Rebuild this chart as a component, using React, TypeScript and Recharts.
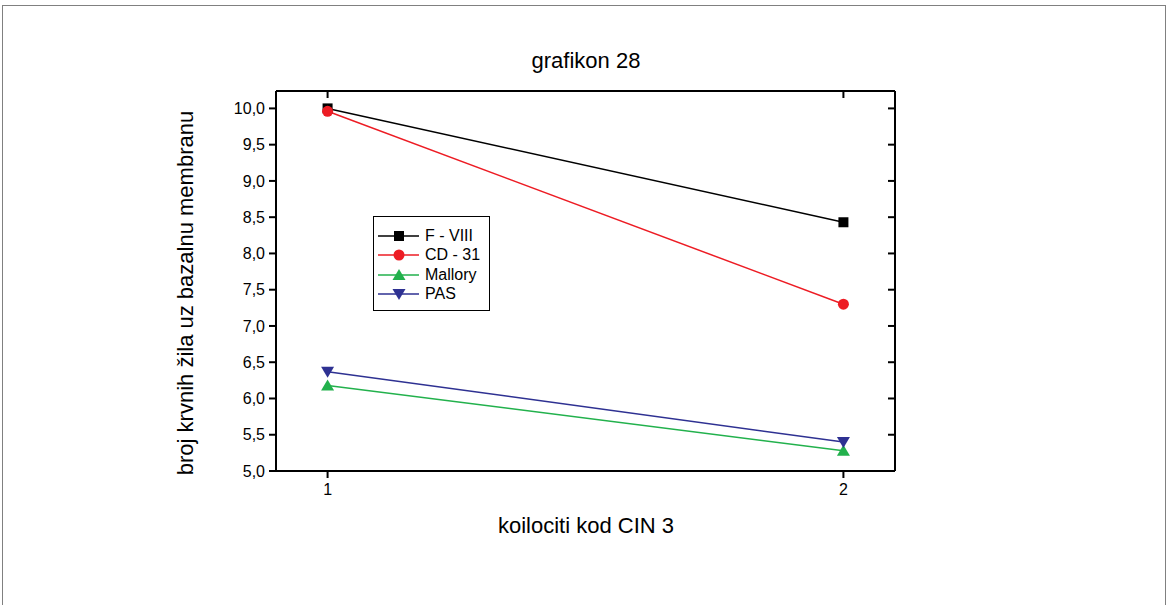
import { LineChart, Line, XAxis, YAxis, Customized } from "recharts";

const xs = [1, 2];
const fviii = [10.0, 8.43];
const cd31 = [9.96, 7.3];
const mallory = [6.18, 5.28];
const pas = [6.37, 5.4];
const yTicks = [5, 5.5, 6, 6.5, 7, 7.5, 8, 8.5, 9, 9.5, 10];
const xTicks = [1, 2];

const data = xs.map((x, i) => ({
  x,
  fviii: fviii[i],
  cd31: cd31[i],
  mallory: mallory[i],
  pas: pas[i],
}));

const FONT = "'Liberation Sans', Arial, sans-serif";

const series = [
  { key: "fviii", name: "F - VIII", color: "#000000", shape: "square" },
  { key: "cd31", name: "CD - 31", color: "#ed1c24", shape: "circle" },
  { key: "mallory", name: "Mallory", color: "#22b14c", shape: "up" },
  { key: "pas", name: "PAS", color: "#2e3192", shape: "down" },
];

function Marker({ cx, cy, shape, color }: any) {
  if (cx == null || cy == null) return null;
  if (shape === "square")
    return <rect x={cx - 5} y={cy - 5} width={10} height={10} fill={color} />;
  if (shape === "circle") return <circle cx={cx} cy={cy} r={5.5} fill={color} />;
  if (shape === "up")
    return <polygon points={`${cx},${cy - 6} ${cx - 6.5},${cy + 5} ${cx + 6.5},${cy + 5}`} fill={color} />;
  return <polygon points={`${cx},${cy + 6} ${cx - 6.5},${cy - 5} ${cx + 6.5},${cy - 5}`} fill={color} />;
}

const fmt = (v: number) => v.toFixed(1).replace(".", ",");
const blank = () => "";

function LegendBox() {
  return (
    <div
      style={{
        position: "absolute",
        left: 373,
        top: 216,
        width: 117,
        height: 95,
        boxSizing: "border-box",
        border: "1px solid #000",
        background: "#fff",
        paddingTop: 9,
        fontFamily: FONT,
        fontSize: 16,
      }}
    >
      {series.map((s) => (
        <div key={s.key} style={{ display: "flex", alignItems: "center", height: 19.5 }}>
          <svg width={44} height={16} style={{ marginLeft: 3 }}>
            <line x1={1} y1={8} x2={42} y2={8} stroke={s.color} strokeWidth={1.5} />
            <Marker cx={22} cy={8} shape={s.shape} color={s.color} />
          </svg>
          <span style={{ marginLeft: 4 }}>{s.name}</span>
        </div>
      ))}
    </div>
  );
}

function Labels() {
  return (
    <g fontFamily={FONT} fill="#000">
      <text x={586} y={68} textAnchor="middle" fontSize={22}>
        grafikon 28
      </text>
      <text x={586} y={533} textAnchor="middle" fontSize={22}>
        koilociti kod CIN 3
      </text>
      <text
        x={193}
        y={293}
        textAnchor="middle"
        fontSize={22}
        transform="rotate(-90 193 293)"
      >
        broj krvnih žila uz bazalnu membranu
      </text>
    </g>
  );
}

export default function App() {
  return (
    <div style={{ position: "absolute", left: 0, top: 0, width: 1172, height: 605, background: "#fff", overflow: "hidden" }}>
      <div
        style={{
          position: "absolute",
          left: 2,
          top: 5,
          width: 1164,
          height: 620,
          border: "1px solid #808080",
          boxSizing: "border-box",
        }}
      />
      <LineChart
        width={1172}
        height={605}
        data={data}
        margin={{ top: 91, right: 277, bottom: 104, left: 0 }}
        style={{ position: "absolute", left: 0, top: 0 }}
      >
        <XAxis
          dataKey="x"
          type="number"
          domain={[0.9, 2.1]}
          ticks={xTicks}
          tickSize={7}
          tickMargin={6}
          height={30}
          stroke="#000"
          strokeWidth={2}
          tick={{ fill: "#000", fontSize: 16, fontFamily: FONT }}
        />
        <XAxis
          xAxisId="top"
          dataKey="x"
          orientation="top"
          type="number"
          domain={[0.9, 2.1]}
          ticks={xTicks}
          mirror
          tickSize={7}
          tickFormatter={blank}
          height={1}
          stroke="#000"
          strokeWidth={2}
        />
        <YAxis
          type="number"
          domain={[5, 10.24]}
          ticks={yTicks}
          allowDataOverflow
          tickFormatter={fmt}
          width={276}
          tickSize={7}
          tickMargin={4}
          stroke="#000"
          strokeWidth={2}
          tick={{ fill: "#000", fontSize: 16, fontFamily: FONT }}
        />
        <YAxis
          yAxisId="r"
          orientation="right"
          type="number"
          domain={[5, 10.24]}
          ticks={yTicks}
          allowDataOverflow
          mirror
          width={1}
          tickSize={7}
          tickFormatter={blank}
          stroke="#000"
          strokeWidth={2}
        />
        {series.map((s) => (
          <Line
            key={s.key}
            dataKey={s.key}
            name={s.name}
            stroke={s.color}
            strokeWidth={1.5}
            type="linear"
            isAnimationActive={false}
            dot={(p: any) => <Marker key={`${s.key}-${p.index}`} cx={p.cx} cy={p.cy} shape={s.shape} color={s.color} />}
          />
        ))}
        <Customized component={<Labels />} />
      </LineChart>
      <LegendBox />
    </div>
  );
}
